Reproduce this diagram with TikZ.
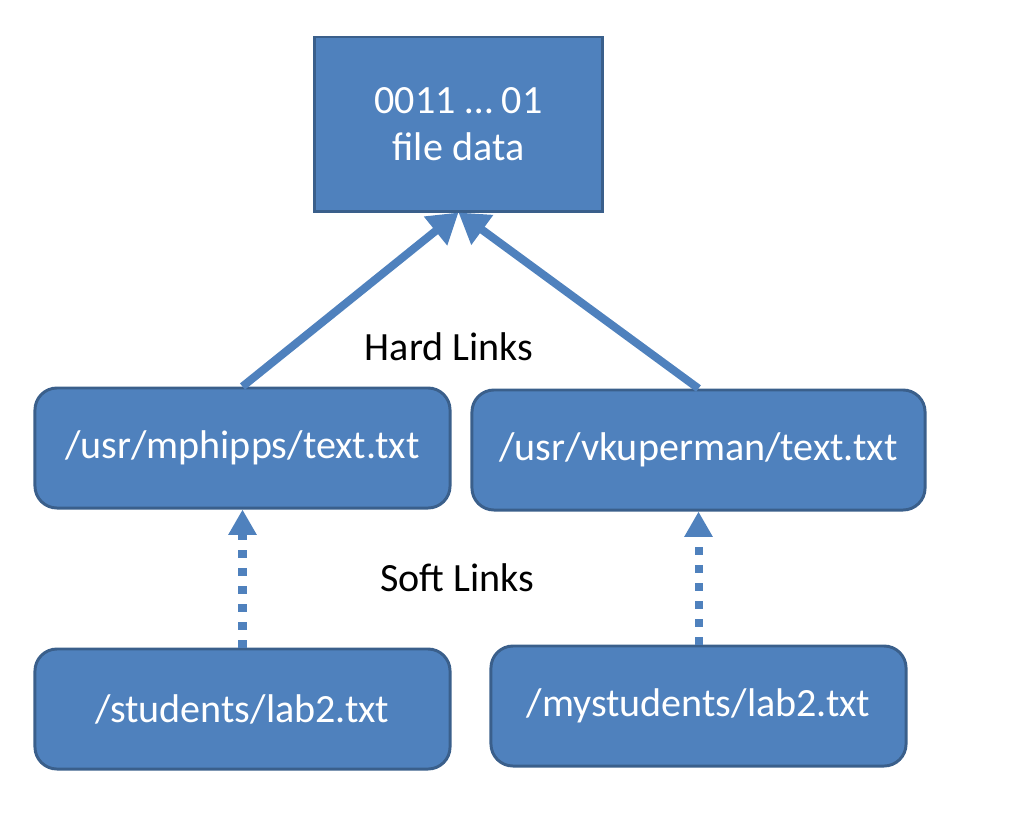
\documentclass[tikz,border=0pt]{standalone}
\usepackage{fontspec}
\setmainfont{Carlito}
\definecolor{boxblue}{HTML}{4F81BD}
\definecolor{boxedge}{HTML}{3A5F8B}
\usetikzlibrary{arrows.meta, positioning}

\begin{document}
\begin{tikzpicture}[
        x=0.025cm, y=-0.025cm,
        file/.style={draw=boxedge, line width=2.1pt, fill=boxblue,
                     text=white, rounded corners=0.55cm,
                     minimum width=10.375cm, minimum height=3cm,
                     font=\fontsize{28.5}{33}\selectfont, align=center},
        lbl/.style={font=\fontsize{28.5}{33}\selectfont},
        hard/.style={-{Triangle[length=21pt, width=25pt]}, boxblue,
                     line width=5.7pt},
        soft/.style={-{Triangle[length=18pt, width=19pt]}, boxblue,
                     line width=5.7pt, dash pattern=on 5.7pt off 7.1pt}
      ]
      \useasboundingbox (0,0) rectangle (1017,829);

      \node[file, rounded corners=0pt, minimum width=7.175cm,
            minimum height=4.35cm] (data) at (458.5,124) {0011 \dots\ 01\\file data};
      \node[file] (mph)  at (242.5,448) {/usr/mphipps/text.txt};
      \node[file, minimum width=11.325cm] (vku) at (698.5,450) {/usr/vkuperman/text.txt};
      \node[file] (stu)  at (242.5,709) {/students/lab2.txt};
      \node[file] (myst) at (698.5,706) {/mystudents/lab2.txt};

      \draw[hard] (mph.north) -- (data.south);
      \draw[hard] (vku.north) -- (data.south);
      \draw[soft] (stu.north) -- (mph.south);
      \draw[soft] (myst.north) -- (vku.south);

      \node[lbl] (hl) at (449,347) {Hard Links};
      \node[lbl] (sl) at (457,578) {Soft Links};
      \node[lbl, anchor=east] (cut) at (6,593) {e};
    \end{tikzpicture}
\end{document}
